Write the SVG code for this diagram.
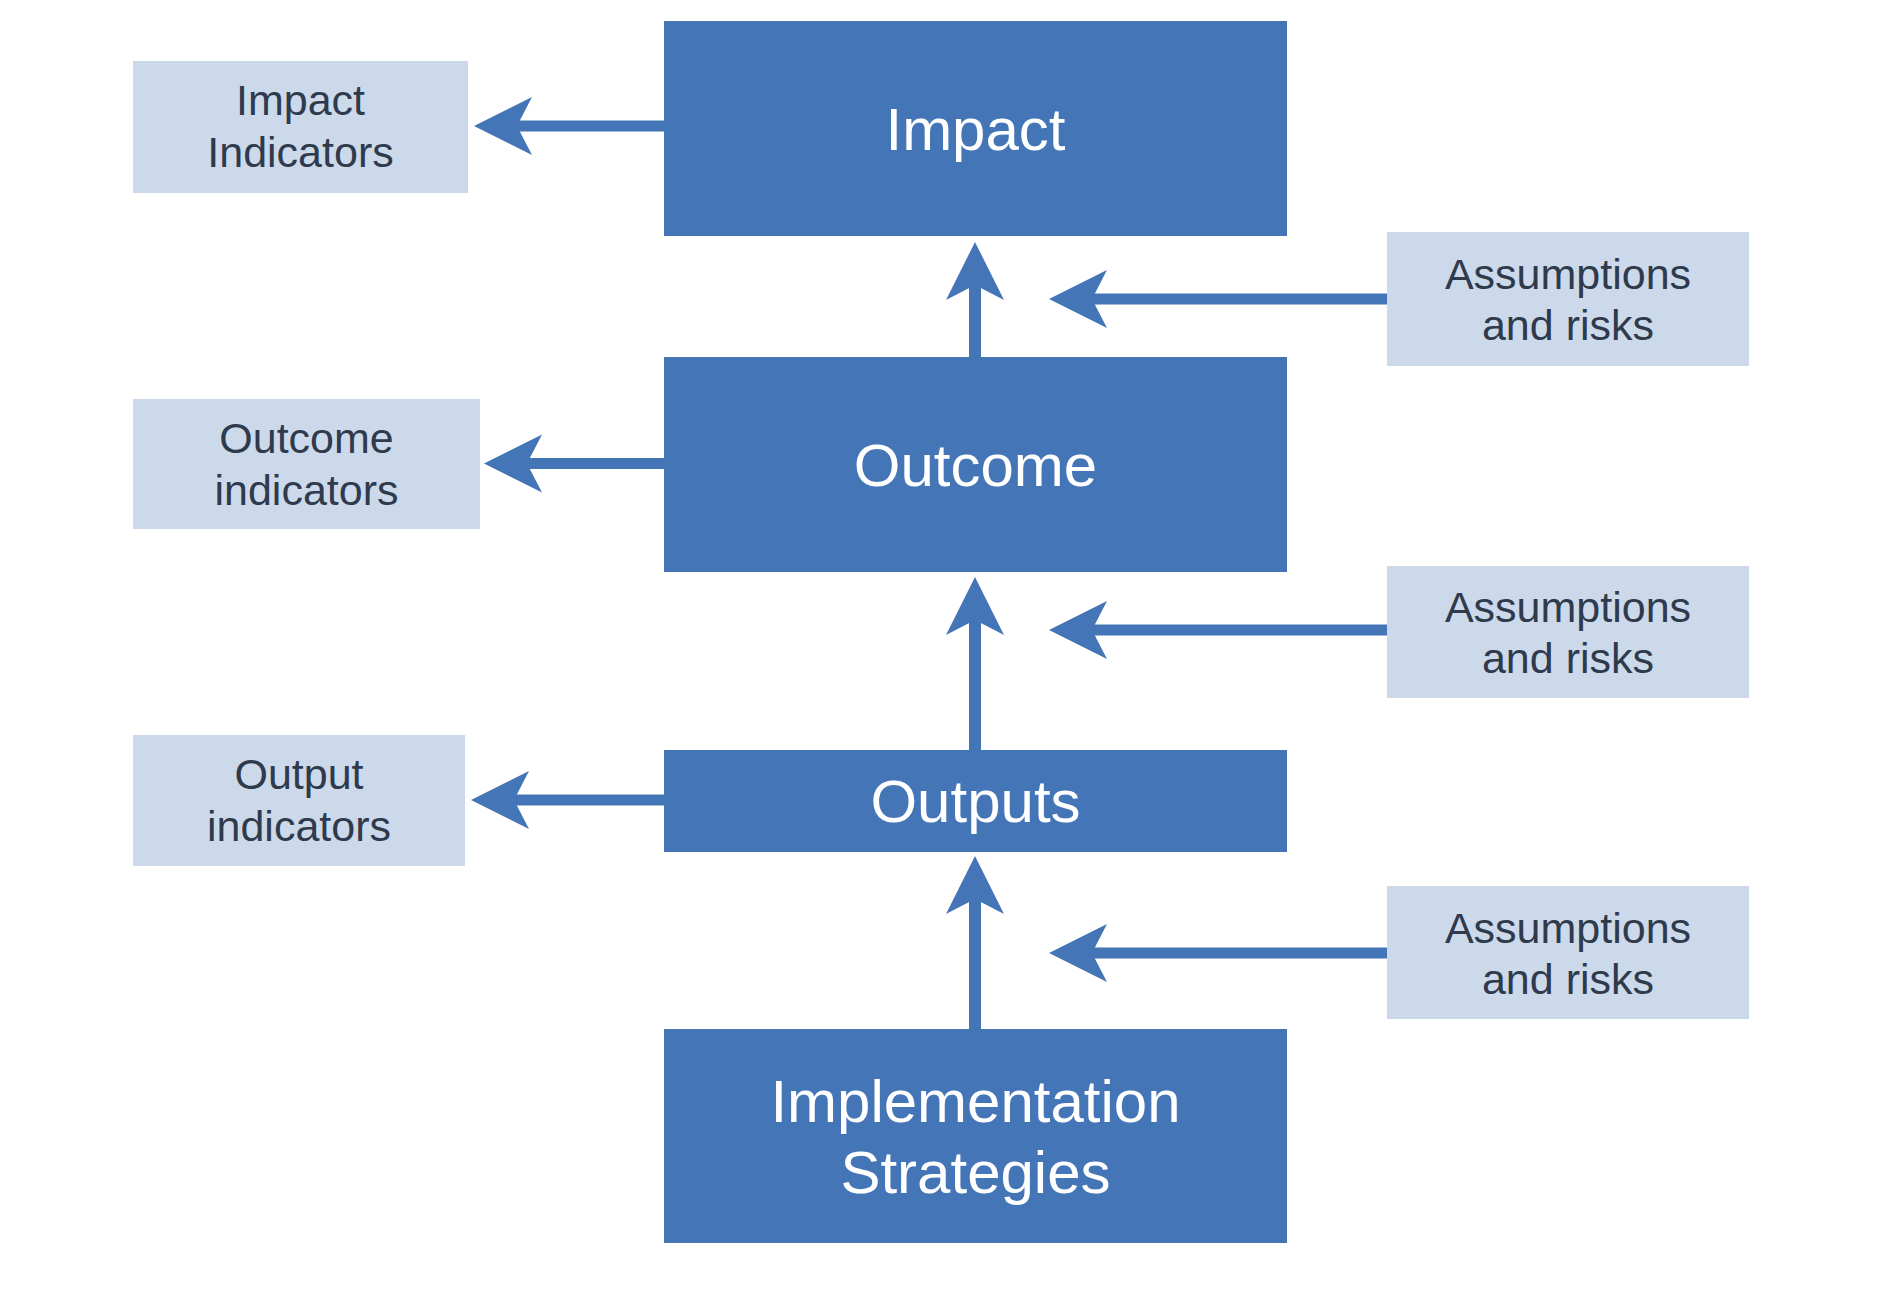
<svg xmlns="http://www.w3.org/2000/svg" width="1880" height="1292" viewBox="0 0 1880 1292">
<style>
.main{fill:#4475B7}
.side{fill:#CCD9EB}
.mt{font-family:"Liberation Sans",Arial,sans-serif;font-size:60px;fill:#FFFFFF;text-anchor:middle}
.st{font-family:"Liberation Sans",Arial,sans-serif;font-size:43px;fill:#2F3A4C;text-anchor:middle}
.con{stroke:#4475B7;fill:none;marker-end:url(#ah)}
.h{stroke-width:11}
.v{stroke-width:12}
</style>
<defs>
<marker id="ah" markerUnits="userSpaceOnUse" markerWidth="60" markerHeight="60" viewBox="-16 -30 60 60" refX="0" refY="0" orient="auto" overflow="visible">
<path d="M43,0 L-15,-29 L0,0 L-15,29 Z" fill="#4475B7"/>
</marker>
</defs>
<rect width="1880" height="1292" fill="#FFFFFF"/>
<g id="connectors">
<path class="con h" d="M664,126 H517"/>
<path class="con h" d="M664,463.5 H527"/>
<path class="con h" d="M664,800 H514"/>
<path class="con h" d="M1387,299 H1092"/>
<path class="con h" d="M1387,630 H1092"/>
<path class="con h" d="M1387,953 H1092"/>
<path class="con v" d="M975,357 V285"/>
<path class="con v" d="M975,750 V620"/>
<path class="con v" d="M975,1029 V899"/>
</g>
<g id="impact">
<rect class="main" x="664" y="21" width="623" height="215"/>
<text class="mt" x="975.5" y="150">Impact</text>
</g>
<g id="outcome">
<rect class="main" x="664" y="357" width="623" height="215"/>
<text class="mt" x="975.5" y="486">Outcome</text>
</g>
<g id="outputs">
<rect class="main" x="664" y="750" width="623" height="102"/>
<text class="mt" x="975.5" y="822">Outputs</text>
</g>
<g id="implementation">
<rect class="main" x="664" y="1029" width="623" height="214"/>
<text class="mt" x="975.5" y="1122">Implementation</text>
<text class="mt" x="975.5" y="1193">Strategies</text>
</g>
<g id="impact-indicators">
<rect class="side" x="133" y="61" width="335" height="132"/>
<text class="st" x="300.5" y="115">Impact</text>
<text class="st" x="300.5" y="167">Indicators</text>
</g>
<g id="outcome-indicators">
<rect class="side" x="133" y="399" width="347" height="130"/>
<text class="st" x="306.5" y="453">Outcome</text>
<text class="st" x="306.5" y="505">indicators</text>
</g>
<g id="output-indicators">
<rect class="side" x="133" y="735" width="332" height="131"/>
<text class="st" x="299" y="789">Output</text>
<text class="st" x="299" y="841">indicators</text>
</g>
<g id="assumptions-1">
<rect class="side" x="1387" y="232" width="362" height="134"/>
<text class="st" x="1568" y="289">Assumptions</text>
<text class="st" x="1568" y="340">and risks</text>
</g>
<g id="assumptions-2">
<rect class="side" x="1387" y="566" width="362" height="132"/>
<text class="st" x="1568" y="622">Assumptions</text>
<text class="st" x="1568" y="673">and risks</text>
</g>
<g id="assumptions-3">
<rect class="side" x="1387" y="886" width="362" height="133"/>
<text class="st" x="1568" y="943">Assumptions</text>
<text class="st" x="1568" y="994">and risks</text>
</g>
</svg>
